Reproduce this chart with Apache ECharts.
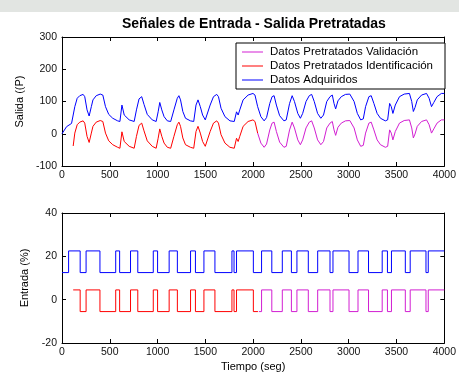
<!DOCTYPE html>
<html>
<head>
<meta charset="utf-8">
<script src="https://cdn.jsdelivr.net/npm/echarts@6/dist/echarts.min.js"></script>
<style>
html,body{margin:0;padding:0;background:#fff;}
#chart{width:459px;height:374px;}
</style>
</head>
<body>
<div id="chart"></div>
<script>
// ---- Output (Salida) : Datos Adquiridos ----
const tAdq = [0,20,48,100,117,134,159,186,221,238,262,284,307,324,358,400,427,455,489,531,582,606,627,651,703,755,779,806,834,858,892,944,985,1006,1023,1044,1068,1102,1137,1171,1206,1223,1240,1264,1292,1344,1378,1402,1423,1447,1471,1499,1516,1550,1585,1619,1637,1664,1705,1757,1802,1826,1843,1860,1895,1947,1998,2019,2047,2081,2115,2140,2174,2198,2219,2243,2277,2322,2346,2381,2408,2432,2467,2494,2518,2553,2587,2612,2639,2674,2708,2736,2770,2804,2828,2846,2863,2887,2922,2966,3011,3028,3056,3090,3125,3152,3176,3211,3235,3263,3297,3332,3383,3407,3428,3445,3462,3487,3531,3580,3635,3659,3676,3693,3717,3762,3814,3841,3866,3890,3924,3969,4000];
const yAdq = [0,3,22,32,37,84,110,118,122,115,74,55,84,105,118,123,120,84,60,48,40,38,89,58,43,38,74,108,115,91,60,43,38,68,97,74,53,40,38,74,110,118,105,69,48,40,38,89,105,84,58,43,48,89,115,122,115,79,53,40,38,68,58,74,105,120,125,120,84,53,40,50,94,115,118,89,56,40,43,94,118,100,63,48,63,100,118,122,100,63,48,58,100,115,120,94,77,102,115,122,123,122,100,63,43,46,84,115,118,94,63,48,40,43,94,84,63,89,115,123,125,100,69,81,105,120,125,110,84,97,115,125,125];
// ---- Output : Datos Pretratados Identificación ----
const tIdent = [117,134,159,186,221,238,262,284,307,324,358,400,427,455,489,531,582,606,627,651,703,755,779,806,834,858,892,944,985,1006,1023,1044,1068,1102,1137,1171,1206,1223,1240,1264,1292,1344,1378,1402,1423,1447,1471,1499,1516,1550,1585,1619,1637,1664,1705,1757,1802,1826,1843,1860,1895,1947,1998,2019,2047];
const yIdent = [-38,2,28,36,40,33,-8,-27,2,23,36,41,38,2,-22,-34,-42,-45,6,-24,-39,-45,-8,26,33,9,-22,-39,-45,-14,15,-8,-29,-42,-45,-8,28,36,23,-13,-34,-42,-45,7,23,2,-24,-39,-34,7,33,40,33,-3,-29,-42,-45,-14,-24,-8,23,38,43,38,2];
// ---- Output : Datos Pretratados Validación ----
const tVal = [2047,2081,2115,2140,2174,2198,2219,2243,2277,2322,2346,2381,2408,2432,2467,2494,2518,2553,2587,2612,2639,2674,2708,2736,2770,2804,2828,2846,2863,2887,2922,2966,3011,3028,3056,3090,3125,3152,3176,3211,3235,3263,3297,3332,3383,3407,3428,3445,3462,3487,3531,3580,3635,3659,3676,3693,3717,3762,3814,3841,3866,3890,3924,3969,4000];
const yVal = [2,-29,-42,-32,12,33,36,7,-26,-42,-39,12,36,18,-19,-34,-19,18,36,40,18,-19,-34,-24,18,33,38,12,-5,20,33,40,41,40,18,-19,-39,-36,2,33,36,12,-19,-34,-42,-39,12,2,-19,7,33,41,43,18,-13,-1,23,38,43,28,2,15,33,43,43];

// ---- Input (Entrada) ----
const teAdq = [0,69,190,252,397,562,603,717,793,955,1000,1121,1207,1345,1396,1485,1600,1778,1800,1826,2002,2088,2195,2305,2400,2458,2577,2675,2804,2835,3003,3097,3207,3350,3405,3447,3592,3643,3808,3832,4000];
const yeAdq = [12.5,22.5,12.5,22.5,12.5,22.5,12.5,22.5,12.5,22.5,12.5,22.5,12.5,22.5,12.5,22.5,12.5,22.5,12.5,22.5,12.5,22.5,12.5,22.5,12.5,22.5,12.5,22.5,12.5,22.5,12.5,22.5,12.5,22.5,12.5,22.5,12.5,22.5,12.5,22.5,22.5];
const teIdent = [117,190,252,397,562,603,717,793,955,1000,1121,1207,1345,1396,1485,1600,1778,1800,1826,2002,2050];
const yeIdent = [4.5,-5.5,4.5,-5.5,4.5,-5.5,4.5,-5.5,4.5,-5.5,4.5,-5.5,4.5,-5.5,4.5,-5.5,4.5,-5.5,4.5,-5.5,-5.5];
const teVal = [2060,2088,2195,2305,2400,2458,2577,2675,2804,2835,3003,3097,3207,3350,3405,3447,3592,3643,3808,3832,4000];
const yeVal = [-5.5,4.5,-5.5,4.5,-5.5,4.5,-5.5,4.5,-5.5,4.5,-5.5,4.5,-5.5,4.5,-5.5,4.5,-5.5,4.5,-5.5,4.5,4.5];

const xTicks = [0,500,1000,1500,2000,2500,3000,3500,4000];
const ySalidaTicks = [-100,0,100,200,300];
const yEntradaTicks = [-20,0,20,40];

const names = ['Datos Pretratados Validación','Datos Pretratados Identificación','Datos Adquiridos'];
const colors = ['#d21ed2','#ff0000','#0000ff'];

const zip = (a,b) => a.map((v,i)=>[v,b[i]]);
const FONT = '"Liberation Sans", Arial, Helvetica, sans-serif';
const plain = v => String(v);

function xAx(grid, pos, labels, extra){
  return Object.assign({
    type:'value', gridIndex:grid, position:pos,
    min:xTicks[0], max:xTicks[xTicks.length-1], interval:xTicks[1]-xTicks[0],
    axisLine:{show:true, onZero:false, lineStyle:{color:'#000', width:1}},
    axisTick:{show:true, inside:true, length:4, lineStyle:{color:'#000'}},
    axisLabel:{show:labels, margin:4, fontSize:10.5, color:'#111', fontFamily:FONT, formatter:plain},
    splitLine:{show:false}
  }, extra||{});
}
function yAx(grid, pos, labels, ticks, extra){
  return Object.assign({
    type:'value', gridIndex:grid, position:pos,
    min:ticks[0], max:ticks[ticks.length-1], interval:ticks[1]-ticks[0],
    axisLine:{show:true, onZero:false, lineStyle:{color:'#000', width:1}},
    axisTick:{show:true, inside:true, length:4, lineStyle:{color:'#000'}},
    axisLabel:{show:labels, margin:5, fontSize:10.5, color:'#111', fontFamily:FONT, formatter:plain},
    splitLine:{show:false}
  }, extra||{});
}
function line(name, data, color, xi, yi, step){
  return {type:'line', name:name, data:data, xAxisIndex:xi, yAxisIndex:yi,
    symbol:'none', showSymbol:false, step:step||false, animation:false,
    lineStyle:{color:color, width:1}, itemStyle:{color:color}};
}

const chart = echarts.init(document.getElementById('chart'), null, {renderer:'canvas'});
chart.setOption({
  backgroundColor:'#ffffff',
  animation:false,
  textStyle:{fontFamily:FONT},
  graphic:[{type:'rect', left:0, top:0, z:-10, shape:{width:459, height:12}, style:{fill:'#e2e5e2'}}],
  title:{text:'Señales de Entrada - Salida Pretratadas', left:122, top:17, padding:0,
    textStyle:{fontSize:14, fontWeight:'bold', color:'#000', fontFamily:FONT}},
  legend:{data:names, orient:'vertical', left:236, top:43, padding:[3,12,3,6],
    borderColor:'#000', borderWidth:1, backgroundColor:'#fff', borderRadius:0,
    icon:'rect', itemWidth:21, itemHeight:1, itemGap:2,
    textStyle:{fontSize:11.5, color:'#000', fontFamily:FONT, padding:[0,0,0,2]}},
  grid:[
    {left:62, right:10, top:37, height:129},
    {left:62, right:10, top:213, height:130}
  ],
  xAxis:[
    xAx(0,'bottom',true),
    xAx(0,'top',false),
    xAx(1,'bottom',true,{name:'Tiempo (seg)', nameLocation:'middle', nameGap:18,
      nameTextStyle:{fontSize:11, color:'#000', fontFamily:FONT}}),
    xAx(1,'top',false)
  ],
  yAxis:[
    yAx(0,'left',true,ySalidaTicks,{name:'Salida ((P)', nameLocation:'middle', nameGap:31,
      nameTextStyle:{fontSize:11, color:'#000', fontFamily:FONT}}),
    yAx(0,'right',false,ySalidaTicks),
    yAx(1,'left',true,yEntradaTicks,{name:'Entrada (%)', nameLocation:'middle', nameGap:22,
      nameTextStyle:{fontSize:11, color:'#000', fontFamily:FONT}}),
    yAx(1,'right',false,yEntradaTicks)
  ],
  series:[
    line(names[2], zip(tAdq,yAdq), colors[2], 0, 0),
    line(names[1], zip(tIdent,yIdent), colors[1], 0, 0),
    line(names[0], zip(tVal,yVal), colors[0], 0, 0),
    line(names[2], zip(teAdq,yeAdq), colors[2], 2, 2, 'end'),
    line(names[1], zip(teIdent,yeIdent), colors[1], 2, 2, 'end'),
    line(names[0], zip(teVal,yeVal), colors[0], 2, 2, 'end')
  ]
});
</script>
</body>
</html>
